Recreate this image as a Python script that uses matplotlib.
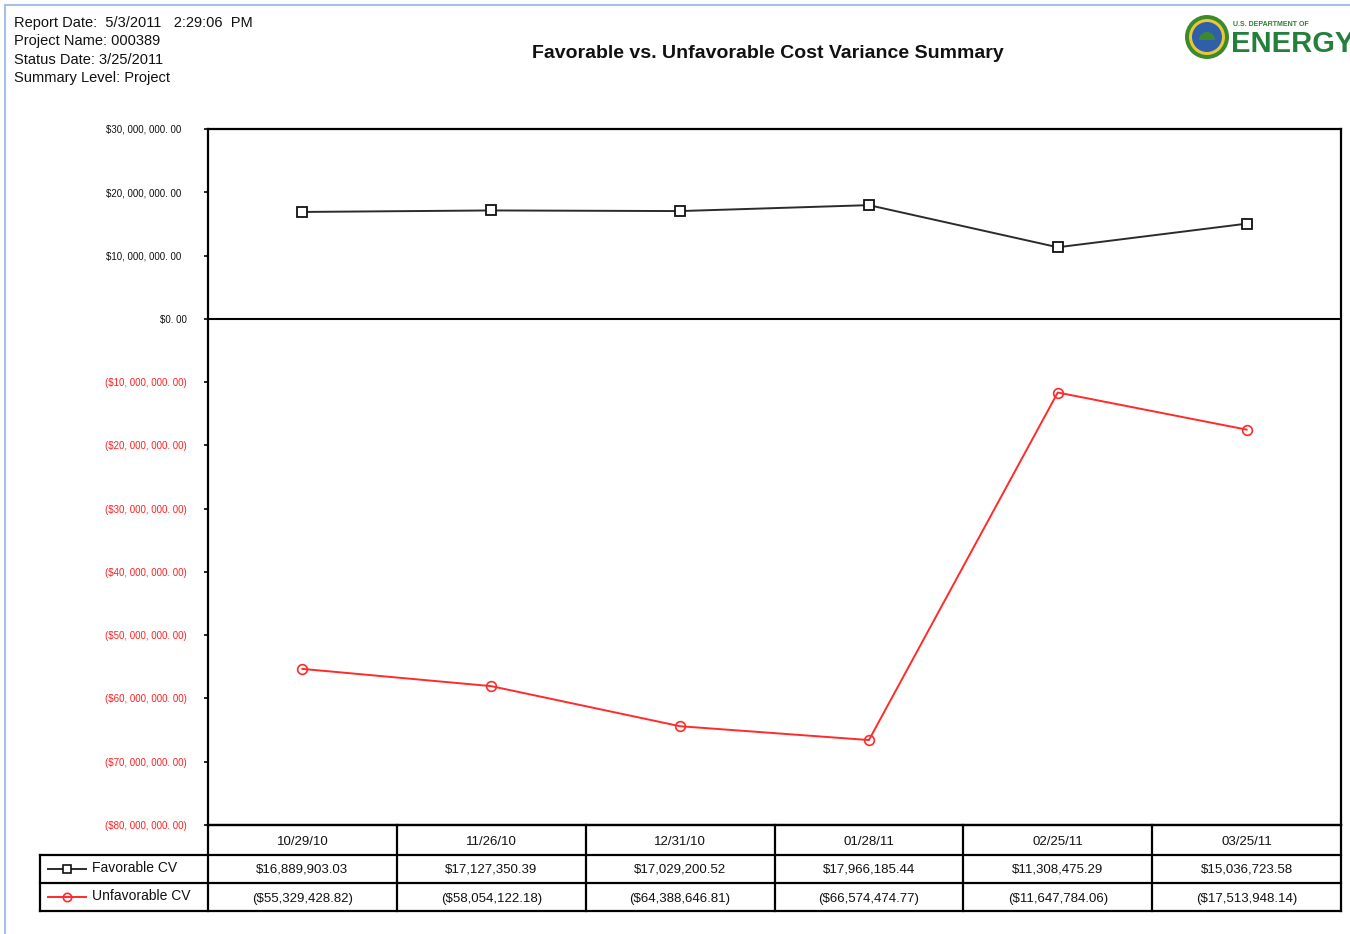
import matplotlib
matplotlib.use("Agg")
import matplotlib.pyplot as plt
import matplotlib.transforms as mtrans
from matplotlib.ticker import FuncFormatter, MultipleLocator
from matplotlib.patches import Circle, Wedge
import numpy as np

plt.rcParams['font.family'] = ['Liberation Sans', 'DejaVu Sans']

# ---- data ----
dates = ["10/29/10", "11/26/10", "12/31/10", "01/28/11", "02/25/11", "03/25/11"]
favorable_cv = [16889903.03, 17127350.39, 17029200.52, 17966185.44, 11308475.29, 15036723.58]
unfavorable_cv = [-55329428.82, -58054122.18, -64388646.81, -66574474.77, -11647784.06, -17513948.14]
series_names = ["Favorable CV", "Unfavorable CV"]
header_lines = ["Report Date:  5/3/2011   2:29:06  PM",
                "Project Name: 000389",
                "Status Date: 3/25/2011",
                "Summary Level: Project"]
title = "Favorable vs. Unfavorable Cost Variance Summary"

W, H = 1350, 934
fig = plt.figure(figsize=(W / 100, H / 100), dpi=100)
fig.patch.set_facecolor("white")

# pixel-space overlay for frame, header, logo and table
ov = fig.add_axes([0, 0, 1, 1], zorder=0)
ov.set_xlim(0, W)
ov.set_ylim(H, 0)
ov.axis("off")

# light blue page border
ov.plot([5, W], [5, 5], color="#a9c0e6", lw=1.5)
ov.plot([5, 5], [5, H], color="#a9c0e6", lw=1.5)

for i, line in enumerate(header_lines):
    ov.text(14, 23 + i * 18.3, line, fontsize=10.5, va="center", ha="left",
            color="#111111")
ov.text(768, 53, title, fontsize=14, fontweight="bold", ha="center",
        va="center", color="#111111")

# department seal and wordmark
ov.add_patch(Circle((1207, 37), 22, facecolor="#3d8a2c", edgecolor="none"))
ov.add_patch(Circle((1207, 37), 18, facecolor="#e7c83a", edgecolor="none"))
ov.add_patch(Circle((1207, 37), 15, facecolor="#2f5fa8", edgecolor="none"))
ov.add_patch(Wedge((1207, 40), 8, 180, 360, facecolor="#3d8a2c", edgecolor="none"))
ov.text(1233, 24, "U.S. DEPARTMENT OF", fontsize=5, fontweight="bold",
        color="#2e7d32", va="center", ha="left")
ov.text(1231, 52, "ENERGY", fontsize=21, fontweight="bold", color="#23803a",
        va="baseline", ha="left", clip_on=False)

# ---- main chart ----
ax_l, ax_r, ax_t, ax_b = 208, 1341, 129, 825
ax = fig.add_axes([ax_l / W, 1 - ax_b / H, (ax_r - ax_l) / W, (ax_b - ax_t) / H],
                  zorder=2)
ax.set_facecolor("none")
x = np.arange(len(dates)) + 0.5
ax.plot(x, favorable_cv, color="#2b2b2b", lw=1.4, marker="s", ms=7,
        mfc="white", mec="#111111", mew=1.3)
ax.plot(x, unfavorable_cv, color="#ff2a2a", lw=1.4, marker="o", ms=7,
        mfc="none", mec="#ff2a2a", mew=1.2)
ax.axhline(0, color="black", lw=1.5, zorder=1)
ax.set_xlim(0, len(dates))
ax.set_ylim(-80e6, 30e6)
ax.yaxis.set_major_locator(MultipleLocator(10e6))


def money(v, pos=None):
    s = "${:,.2f}".format(abs(v))
    s = s.replace(",", ", ").replace(".", ". ")
    return "({})".format(s) if v < 0 else s


ax.yaxis.set_major_formatter(FuncFormatter(money))
ax.tick_params(axis="y", length=3, width=1.2, labelsize=7, pad=12,
               direction="out")
ax.set_xticks([])
for s in ax.spines.values():
    s.set_linewidth(1.6)
    s.set_color("black")

fig.canvas.draw()
shift = mtrans.ScaledTranslation(-6 / 100, 0, fig.dpi_scale_trans)
for lbl, v in zip(ax.get_yticklabels(), ax.get_yticks()):
    if v < 0:
        lbl.set_color("#ff2020")
    else:
        lbl.set_color("#111111")
        if v > 0:
            lbl.set_transform(lbl.get_transform() + shift)

# ---- data table ----
col_w = (ax_r - ax_l) / len(dates)
rows_y = [825, 855, 883, 911]
leg_l = 40
lw_t = 1.6
ov.plot([ax_l, ax_r], [rows_y[0], rows_y[0]], color="black", lw=lw_t)
for yy in rows_y[1:]:
    ov.plot([leg_l, ax_r], [yy, yy], color="black", lw=lw_t)
ov.plot([leg_l, leg_l], [rows_y[1], rows_y[3]], color="black", lw=lw_t)
for i in range(len(dates) + 1):
    xx = ax_l + i * col_w
    ov.plot([xx, xx], [rows_y[0], rows_y[3]], color="black", lw=lw_t)

for i, d in enumerate(dates):
    cx = ax_l + (i + 0.5) * col_w
    ov.text(cx, (rows_y[0] + rows_y[1]) / 2 + 2, d, fontsize=9.5,
            ha="center", va="center", color="#111111")
    fv = "${:,.2f}".format(favorable_cv[i])
    uv = "(${:,.2f})".format(abs(unfavorable_cv[i]))
    ov.text(cx, (rows_y[1] + rows_y[2]) / 2 + 1, fv, fontsize=9.5,
            ha="center", va="center", color="#111111")
    ov.text(cx, (rows_y[2] + rows_y[3]) / 2 + 2, uv, fontsize=9.5,
            ha="center", va="center", color="#111111")

# legend keys in table
ky1 = (rows_y[1] + rows_y[2]) / 2
ky2 = (rows_y[2] + rows_y[3]) / 2
ov.plot([48, 86], [ky1, ky1], color="#2b2b2b", lw=1.4)
ov.plot([67], [ky1], marker="s", ms=6, mfc="white", mec="#111111", mew=1.2)
ov.plot([48, 86], [ky2, ky2], color="#ff2a2a", lw=1.4)
ov.plot([67], [ky2], marker="o", ms=6, mfc="none", mec="#ff2a2a", mew=1.2)
ov.text(92, ky1 - 1, series_names[0], fontsize=10, ha="left", va="center",
        color="#111111")
ov.text(92, ky2 - 1, series_names[1], fontsize=10, ha="left", va="center",
        color="#111111")

fig.savefig("out.png", dpi=100)
